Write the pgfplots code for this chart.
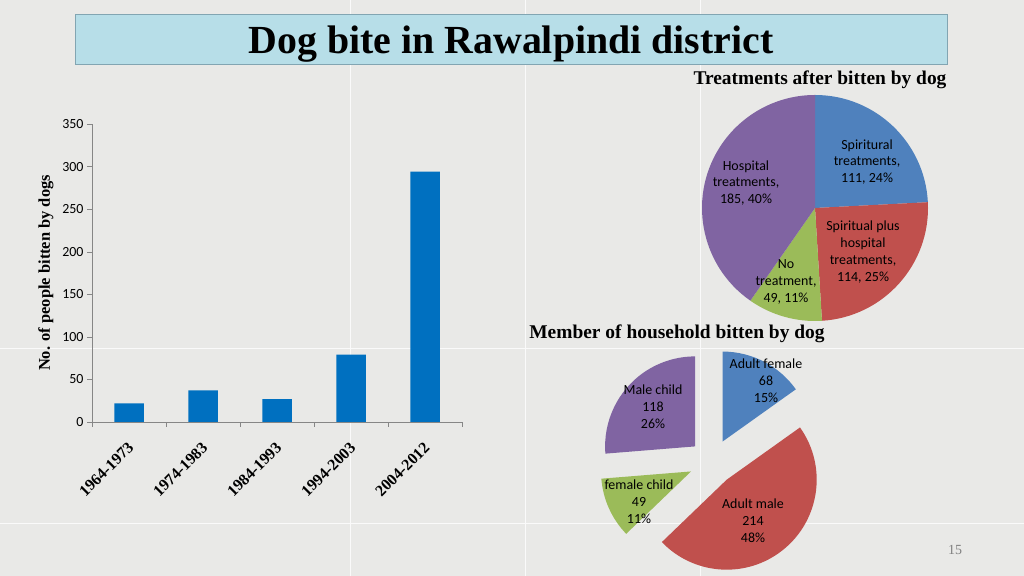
\documentclass[border=0pt]{standalone}
\usepackage{fontspec}
\setmainfont{Carlito}
\newfontfamily\tnr{Liberation Serif}
\usepackage{pgfplots}
\pgfplotsset{compat=1.18}

\definecolor{bg}{RGB}{233,233,231}
\definecolor{barblue}{RGB}{0,112,192}
\definecolor{pblue}{RGB}{79,129,189}
\definecolor{pred}{RGB}{192,80,77}
\definecolor{pgreen}{RGB}{155,187,89}
\definecolor{ppurple}{RGB}{128,100,162}
\definecolor{titlebox}{RGB}{183,222,232}
\definecolor{titleline}{RGB}{130,165,178}
\definecolor{axgray}{RGB}{134,134,134}

\begin{document}
\begin{tikzpicture}[x=1bp,y=1bp]
% slide background
\fill[bg] (0,0) rectangle (1024,576);
\useasboundingbox (0,0) rectangle (1024,576);
\draw[white, line width=1bp, opacity=0.8]
  (350,0) -- (350,576) (525,0) -- (525,576) (700,0) -- (700,576)
  (0,227) -- (1024,227) (0,52) -- (1024,52);

% title
\filldraw[fill=titlebox, draw=titleline, line width=0.8bp] (75,562) rectangle (947,512);
\node[anchor=base, inner sep=0pt, font=\tnr\bfseries\fontsize{40}{44}\selectfont] at (511,522) {Dog bite in Rawalpindi district};

% bar chart
\begin{axis}[
  at={(92bp,154bp)}, anchor=south west,
  scale only axis, width=370bp, height=298bp,
  xmin=-0.5, xmax=4.5, ymin=0, ymax=350,
  axis x line*=bottom, axis y line*=left,
  axis line style={draw=axgray, -},
  tick align=outside, major tick length=5bp, minor tick length=5bp,
  tick style={draw=axgray},
  xtick={0,...,4},
  xticklabels={1964-1973,1974-1983,1984-1993,1994-2003,2004-2012},
  major x tick style={draw=none},
  minor xtick={-0.5,0.5,...,4.5},
  ytick={0,50,...,350},
  /pgf/number format/assume math mode=true,
  y tick label style={font=\fontsize{14}{16}\selectfont},
  x tick label style={rotate=45, anchor=east, xshift=-8bp, yshift=-14bp,
    font=\tnr\bfseries\fontsize{16}{18}\selectfont},
  ylabel={No. of people bitten by dogs},
  ylabel style={at={(axis description cs:-0.1243,0.5)}, anchor=center,
    font=\tnr\bfseries\fontsize{16.5}{18}\selectfont},
]
\addplot[ybar, bar width=29.5bp, fill=barblue, draw=none]
  coordinates {(0,22) (1,37) (2,27) (3,79) (4,294)};
\end{axis}

% pie: treatments
\node[font=\tnr\bfseries\fontsize{19.5}{22}\selectfont] at (820,496) {Treatments after bitten by dog};
\coordinate (P1) at (815,368);
\foreach \c/\v/\col in {0/111/pblue,111/114/pred,225/49/pgreen,274/185/ppurple}{
  \pgfmathsetmacro\sa{90-\c/459*360}
  \pgfmathsetmacro\ea{90-(\c+\v)/459*360}
  \fill[\col] (P1) -- ++(\sa:113bp) arc[start angle=\sa, end angle=\ea, radius=113bp] -- cycle;
}
\begin{scope}[every node/.style={align=center, font=\fontsize{14}{17}\selectfont}]
\node at (867,414) {Spiritural\\treatments,\\111, 24\%};
\node at (746,393) {Hospital\\treatments,\\185, 40\%};
\node at (863,324) {Spiritual plus\\hospital\\treatments,\\114, 25\%};
\node at (786,294) {No\\treatment,\\49, 11\%};
\end{scope}

% pie: household member (exploded)
\node[font=\tnr\bfseries\fontsize{19.5}{22}\selectfont] at (677,242) {Member of household bitten by dog};
\coordinate (P2) at (712,114);
\foreach \c/\v/\col in {0/68/pblue,68/214/pred,282/49/pgreen,331/118/ppurple}{
  \pgfmathsetmacro\sa{90-\c/449*360}
  \pgfmathsetmacro\ea{90-(\c+\v)/449*360}
  \pgfmathsetmacro\ma{(\sa+\ea)/2}
  \fill[\col] ([shift={(\ma:23bp)}]P2) -- ++(\sa:90bp) arc[start angle=\sa, end angle=\ea, radius=90bp] -- cycle;
}
\begin{scope}[every node/.style={align=center, font=\fontsize{14}{17}\selectfont}]
\node at (766,195) {Adult female\\68\\15\%};
\node at (653,169) {Male child\\118\\26\%};
\node at (639,74) {female child\\49\\11\%};
\node at (753,55) {Adult male\\214\\48\%};
\end{scope}

% slide number
\node[text=gray, font=\tnr\fontsize{14}{16}\selectfont] at (955,26) {15};
\end{tikzpicture}
\end{document}
